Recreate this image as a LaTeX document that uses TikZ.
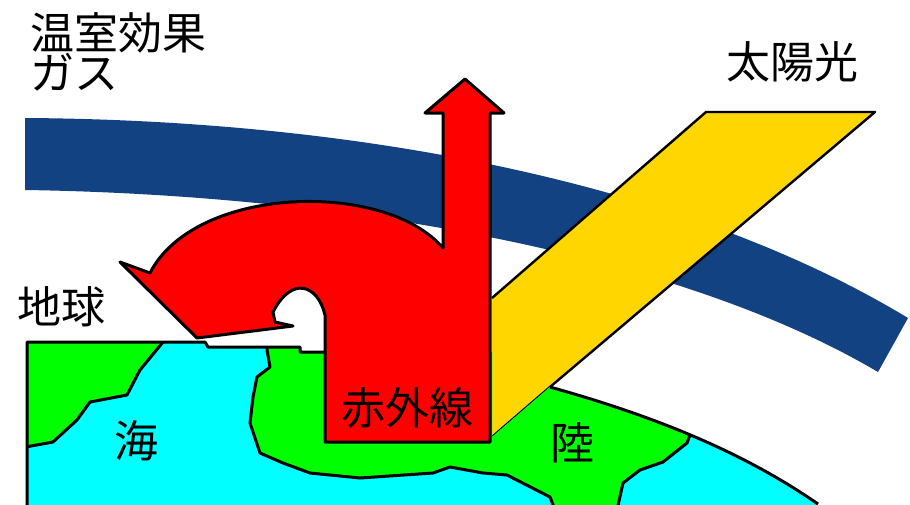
\documentclass[tikz,border=0pt]{standalone}
\usepackage{fontspec}
\newfontfamily\jp{Noto Sans CJK JP}
\definecolor{gasblue}{RGB}{19,66,131}
\definecolor{sunyellow}{RGB}{255,214,0}
\definecolor{landgreen}{RGB}{0,255,0}
\definecolor{seacyan}{RGB}{0,255,255}
\lineskiplimit=-10pt
\begin{document}
\begin{tikzpicture}[x=0.5pt,y=-0.5pt,line join=round]
\tikzset{blackline/.style={draw=black,line width=1.5pt},
         jptext/.style={font=\jp\fontsize{22}{20}\selectfont,inner sep=0pt}}
\useasboundingbox (0,0) rectangle (910,504);
\clip (0,0) rectangle (910,504);
% greenhouse gas layer
\fill[gasblue] (25,118) .. controls (350,120) and (680,180) .. (908,318)
    -- (878,372) .. controls (680,255) and (350,195) .. (25,190) -- cycle;
% sunlight
\fill[sunyellow] (706,112) -- (875,112) -- (550,387) -- (492,437) -- (492,298) -- cycle;
\draw[line width=1.2pt] (492,298) -- (706,112) -- (875,112) -- (550,387) -- (492,437);
% earth: sea first, land on top
\begin{scope}
    \clip (27,342) -- (205,342) -- (208,347) -- (300,347) -- (300,352) -- (492,352)
        -- (492,437) -- (550,387) .. controls (650,415) and (740,450) .. (818,504)
        -- (818,520) -- (27,520) -- cycle;
    \fill[seacyan] (0,330) rectangle (910,520);
    \filldraw[blackline,fill=landgreen] (20,330) -- (165,330) -- (163,342) -- (140,370)
        -- (127,395) -- (90,402) -- (77,420) -- (53,442) -- (20,448) -- cycle;
    \filldraw[blackline,fill=landgreen] (267,330) -- (705,330) -- (705,425) -- (690,435)
        -- (687,443) -- (663,462) -- (640,470) -- (623,483) -- (617,510) -- (555,510)
        -- (550,497) -- (507,475) -- (483,473) -- (450,467) -- (433,473) -- (360,478)
        -- (310,473) -- (283,463) -- (260,453) -- (250,423) -- (253,397) -- (257,377)
        -- (270,367) -- (267,350) -- cycle;
\end{scope}
\draw[blackline] (27,520) -- (27,342) -- (205,342) -- (208,347) -- (300,347)
    -- (300,352) -- (325,352);
\draw[blackline] (550,387) .. controls (650,415) and (740,450) .. (818,504);
% infrared
\filldraw[blackline,fill=red] (443,113) -- (425,113) -- (465,79) -- (504,113)
    -- (490,113) -- (490,442) -- (325,442) -- (325,315)
    .. controls (318,285) and (292,275) .. (273,312) -- (275,322) -- (293,326)
    -- (197,338) -- (120,262) -- (150,273)
    .. controls (195,185) and (385,180) .. (443,248) -- cycle;
% labels
\node[jptext,anchor=west,align=left] (ghg) at (30,52) {温室効果\\ガス};
\node[jptext] (sun) at (792,62) {太陽光};
\node[jptext] (earth) at (62,307) {地球};
\node[jptext] (sea) at (136,441) {海};
\node[jptext] (ir) at (407,408) {赤外線};
\node[jptext] (land) at (572,443) {陸};
\end{tikzpicture}
\end{document}
